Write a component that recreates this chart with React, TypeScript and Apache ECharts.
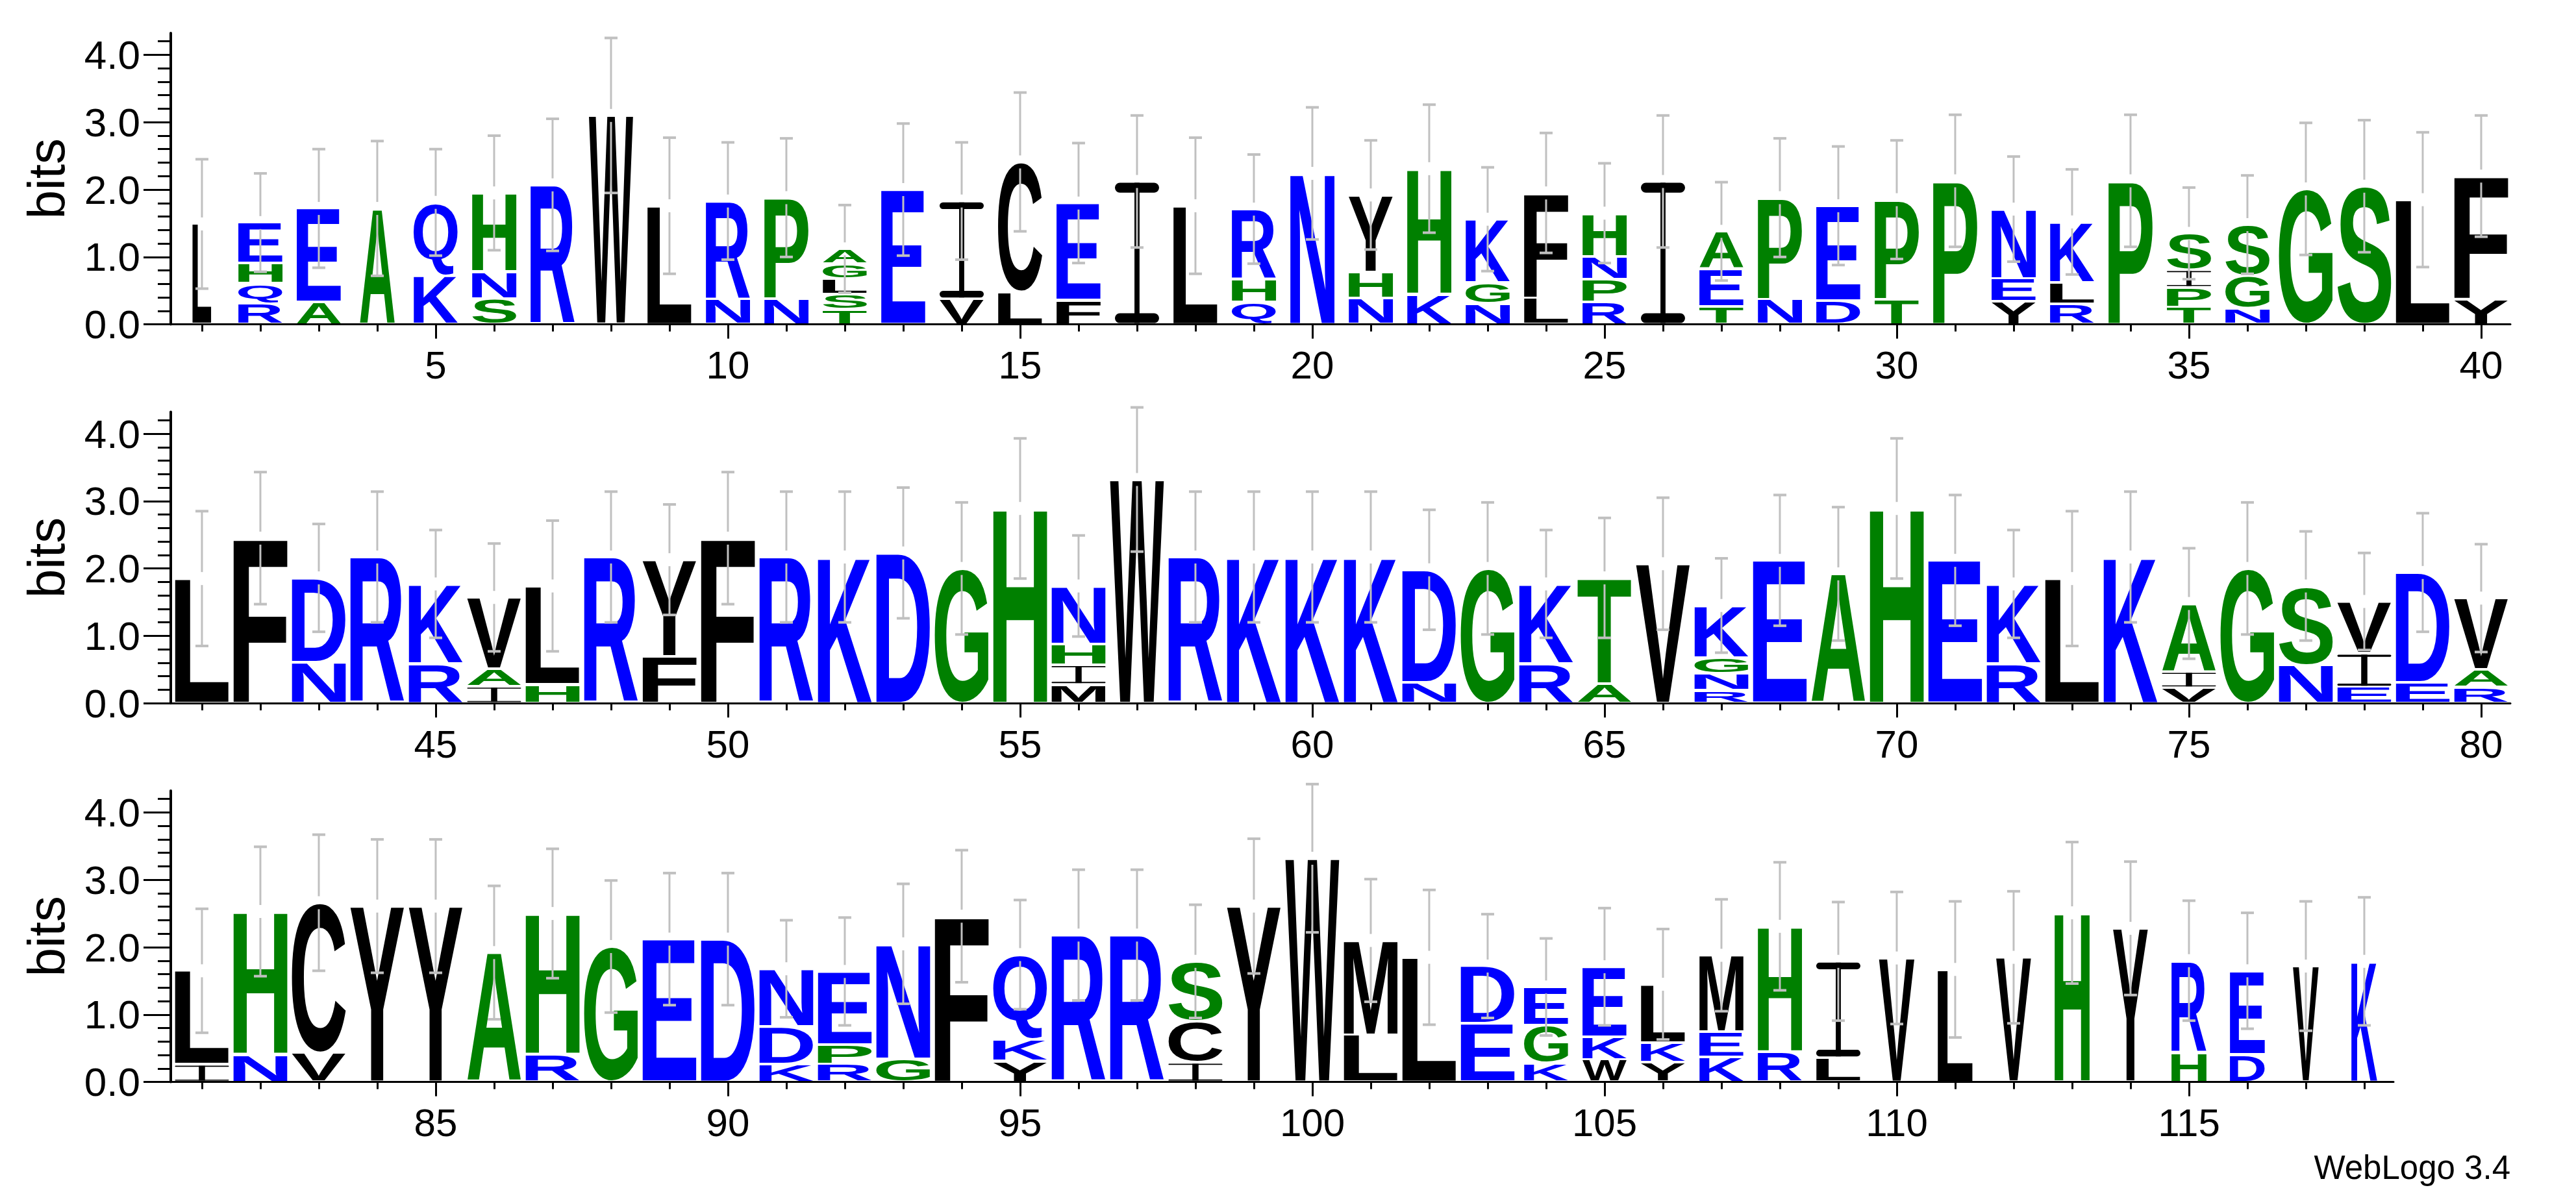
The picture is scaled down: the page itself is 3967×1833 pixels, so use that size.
import React, { useEffect, useRef } from 'react';
import * as echarts from 'echarts';

// ---------- DATA (positions 1..118, letters listed bottom -> top) ----------
const LETTERS: string[] = [
  'L', 'RQHE', 'AE', 'A', 'KQ', 'SNH', 'R', 'W', 'L', 'NR',
  'NP', 'TSLGA', 'E', 'VI', 'LC', 'FE', 'I', 'L', 'QHR', 'N',
  'NHY', 'KH', 'NGK', 'LF', 'RPNH', 'I', 'TEA', 'NP', 'DE', 'TP',
  'P', 'YEN', 'RLK', 'P', 'TPIS', 'NGS', 'G', 'S', 'L', 'YF',
  'L', 'F', 'ND', 'R', 'RK', 'IAV', 'HL', 'R', 'FY', 'F',
  'R', 'K', 'D', 'G', 'H', 'MIHN', 'W', 'R', 'K', 'K',
  'K', 'ND', 'G', 'RK', 'AT', 'V', 'RNGK', 'E', 'A', 'H',
  'E', 'RK', 'L', 'K', 'VIA', 'G', 'NS', 'EIV', 'ED', 'RAV',
  'IL', 'NH', 'VC', 'Y', 'Y', 'A', 'RH', 'G', 'E', 'D',
  'KDN', 'RPE', 'GN', 'F', 'YKQ', 'R', 'R', 'ICS', 'Y', 'W',
  'LM', 'L', 'ED', 'KGE', 'WKE', 'YKL', 'KEM', 'RH', 'LI', 'V',
  'L', 'V', 'H', 'Y', 'HR', 'DE', 'V', 'K',
];

const HEIGHTS: number[][] = [
  [1.49], [0.31, 0.30, 0.30, 0.60], [0.33, 1.39], [1.72], [0.72, 1.09], [0.38, 0.40, 1.17], [2.07], [3.10], [1.76], [0.37, 1.46],
  [0.38, 1.50], [0.22, 0.23, 0.23, 0.22, 0.22], [2.00], [0.38, 1.45], [0.48, 1.93], [0.36, 1.44], [2.12], [1.76], [0.33, 0.34, 1.04], [2.24],
  [0.39, 0.39, 1.14], [0.45, 1.86], [0.31, 0.31, 0.94], [0.39, 1.56], [0.33, 0.34, 0.34, 0.64], [2.12], [0.26, 0.56, 0.56], [0.37, 1.51], [0.35, 1.41], [0.37, 1.48],
  [2.13], [0.34, 0.34, 1.03], [0.30, 0.32, 0.90], [2.13], [0.26, 0.29, 0.26, 0.54], [0.24, 0.48, 0.76], [2.01], [2.05], [1.85], [0.37, 1.83],
  [1.85], [2.45], [0.61, 1.25], [2.17], [0.59, 1.18], [0.25, 0.26, 1.06], [0.28, 1.46], [2.17], [0.70, 1.43], [2.45],
  [2.17], [2.17], [2.23], [2.00], [2.89], [0.28, 0.29, 0.31, 0.86], [3.32], [2.17], [2.17], [2.17],
  [2.17], [0.31, 1.67], [2.00], [0.59, 1.18], [0.29, 1.57], [2.07], [0.19, 0.25, 0.24, 0.77], [2.12], [1.92], [2.89],
  [2.12], [0.59, 1.18], [1.85], [2.17], [0.23, 0.24, 1.01], [2.00], [0.57, 1.17], [0.24, 0.50, 0.77], [0.31, 1.63], [0.24, 0.26, 1.06],
  [0.26, 1.39], [0.41, 2.12], [0.43, 2.23], [2.61], [2.61], [1.92], [0.41, 2.09], [2.01], [2.12], [2.12],
  [0.27, 0.55, 0.86], [0.27, 0.28, 1.09], [0.34, 1.71], [2.46], [0.31, 0.32, 1.26], [2.18], [2.18], [0.29, 0.61, 0.89], [2.61], [3.32],
  [0.70, 1.40], [1.85], [0.87, 0.85], [0.28, 0.56, 0.57], [0.33, 0.34, 1.04], [0.29, 0.29, 0.87], [0.37, 0.37, 1.14], [0.45, 1.86], [0.36, 1.43], [1.84],
  [1.67], [1.85], [2.51], [2.28], [0.44, 1.36], [0.41, 1.24], [1.72], [1.79],
];

// half-length of each error bar (bits)
const ERRORS: number[] = [
  0.96, 0.73, 0.88, 1.00, 0.79, 0.85, 0.98, 1.15, 1.01, 0.87,
  0.88, 0.65, 0.98, 0.87, 1.03, 0.89, 0.98, 1.01, 0.81, 0.98,
  0.81, 0.95, 0.77, 0.89, 0.74, 0.98, 0.73, 0.88, 0.88, 0.88,
  0.98, 0.78, 0.78, 0.98, 0.68, 0.73, 0.98, 0.98, 1.00, 0.90,
  1.00, 0.98, 0.80, 0.97, 0.80, 0.80, 0.97, 0.97, 0.82, 0.98,
  0.97, 0.97, 0.97, 0.98, 1.04, 0.75, 1.07, 0.97, 0.97, 0.97,
  0.97, 0.89, 0.98, 0.80, 0.89, 0.98, 0.70, 0.97, 0.99, 1.04,
  0.97, 0.80, 1.00, 0.97, 0.82, 0.98, 0.81, 0.72, 0.88, 0.80,
  0.92, 0.96, 1.01, 0.99, 0.99, 0.99, 0.96, 0.98, 0.98, 0.98,
  0.72, 0.80, 0.89, 0.98, 0.81, 0.97, 0.97, 0.84, 1.00, 1.10,
  0.91, 1.00, 0.77, 0.72, 0.87, 0.82, 0.83, 0.95, 0.88, 0.98,
  1.01, 0.98, 1.05, 0.99, 0.89, 0.86, 0.96, 0.95,
];

// fraction of the full stack width (column occupancy)
const WIDTHS: number[] = [
  0.35, 0.82, 0.82, 0.65, 0.82, 0.82, 0.82, 0.82, 0.82, 0.82,
  0.82, 0.82, 0.82, 0.82, 0.82, 0.82, 0.82, 0.82, 0.82, 0.82,
  0.82, 0.82, 0.82, 0.82, 0.82, 0.82, 0.82, 0.82, 0.82, 0.82,
  0.82, 0.82, 0.82, 0.82, 0.82, 0.82, 1.00, 1.00, 1.00, 1.00,
  1.00, 1.00, 1.00, 1.00, 1.00, 1.00, 1.00, 1.00, 1.00, 1.00,
  1.00, 1.00, 1.00, 1.00, 1.00, 1.00, 1.00, 1.00, 1.00, 1.00,
  1.00, 1.00, 1.00, 1.00, 1.00, 1.00, 1.00, 1.00, 1.00, 1.00,
  1.00, 1.00, 1.00, 1.00, 1.00, 1.00, 1.00, 1.00, 1.00, 1.00,
  1.00, 1.00, 1.00, 1.00, 1.00, 1.00, 1.00, 1.00, 1.00, 1.00,
  1.00, 1.00, 1.00, 1.00, 1.00, 1.00, 1.00, 1.00, 1.00, 1.00,
  1.00, 1.00, 1.00, 0.82, 0.82, 0.82, 0.82, 0.82, 0.82, 0.66,
  0.65, 0.65, 0.65, 0.65, 0.65, 0.65, 0.48, 0.48,
];

const ROW_FIRST = [1, 41, 81];
const ROW_LAST = [40, 80, 118];
const Y_MAJOR = [0, 1, 2, 3, 4];
const Y_MINOR = [0.2, 0.4, 0.6, 0.8, 1.2, 1.4, 1.6, 1.8, 2.2, 2.4, 2.6, 2.8, 3.2, 3.4, 3.6, 3.8, 4.2];
const Y_MAX = 4.3219;

// ---------- LAYOUT / STYLE ----------
const PITCH = 90;
const PX_PER_BIT = 103.8;
const ZERO_Y = [499.6, 1083.2, 1666.6];
const AXIS_LEFT = 263;
const FULL_W = 0.922; // full stack width in position units
const FAMILY = '"Liberation Sans", Arial, Helvetica, sans-serif';
const GLYPH_FONT = 'bold 200px "Liberation Sans", Arial, sans-serif';
const BLUE = '#0000ff';
const GREEN = '#008000';
const BLACK = '#000000';
const ERR_COLOR = '#c0c0c0';

const colorOf = (ch: string) =>
  'RKDENQ'.includes(ch) ? BLUE : 'SGHTAP'.includes(ch) ? GREEN : BLACK;

type Metric = { l: number; r: number; a: number; d: number };

function measureGlyphs() {
  const canvas = document.createElement('canvas');
  const ctx = canvas.getContext('2d') as CanvasRenderingContext2D;
  ctx.font = GLYPH_FONT;
  ctx.textBaseline = 'alphabetic';
  const m: Record<string, Metric> = {};
  for (const ch of 'ACDEFGHIKLMNPQRSTVWY') {
    const t = ctx.measureText(ch);
    m[ch] = {
      l: t.actualBoundingBoxLeft,
      r: t.actualBoundingBoxRight,
      a: t.actualBoundingBoxAscent,
      d: t.actualBoundingBoxDescent,
    };
  }
  let central = 0;
  try {
    const ns = 'http://www.w3.org/2000/svg';
    const svg = document.createElementNS(ns, 'svg');
    svg.setAttribute('width', '1000');
    svg.setAttribute('height', '1000');
    (svg as any).style.position = 'absolute';
    (svg as any).style.left = '-5000px';
    const t1 = document.createElementNS(ns, 'text');
    t1.setAttribute('x', '0');
    t1.setAttribute('y', '500');
    t1.setAttribute('style', 'font: ' + GLYPH_FONT);
    t1.textContent = 'E';
    const t2 = t1.cloneNode(true) as SVGTextElement;
    t2.setAttribute('dominant-baseline', 'central');
    svg.appendChild(t1);
    svg.appendChild(t2);
    document.body.appendChild(svg);
    central = (t2 as any).getBBox().y - (t1 as any).getBBox().y;
    document.body.removeChild(svg);
  } catch (e) {
    central = 0;
  }
  if (!central) {
    const t = ctx.measureText('E') as any;
    central = ((t.fontBoundingBoxAscent || 181) - (t.fontBoundingBoxDescent || 42)) / 2;
  }
  return { m, central };
}

function buildOption(metrics: { m: Record<string, Metric>; central: number }) {
  const plotH = Y_MAX * PX_PER_BIT;
  const grids: any[] = [];
  const xAxes: any[] = [];
  const yAxes: any[] = [];
  const series: any[] = [];
  const graphics: any[] = [];

  for (let k = 0; k < 3; k++) {
    const first = ROW_FIRST[k];
    const last = ROW_LAST[k];
    const xmin = first - 0.533;
    const xmax = last + 0.5;
    grids.push({
      left: AXIS_LEFT,
      top: ZERO_Y[k] - plotH,
      width: (xmax - xmin) * PITCH,
      height: plotH,
      containLabel: false,
      outerBoundsMode: 'none',
    });
    const positions: number[] = [];
    const majors: number[] = [];
    for (let p = first; p <= last; p++) {
      positions.push(p);
      if (p % 5 === 0) majors.push(p);
    }
    xAxes.push({
      type: 'value', gridIndex: k, position: 'bottom', min: xmin, max: xmax,
      axisLine: { show: true, onZero: false, lineStyle: { color: BLACK, width: 3 } },
      axisTick: { show: true, customValues: majors, length: 22, lineStyle: { color: BLACK, width: 3 } },
      axisLabel: { show: true, customValues: majors, fontSize: 60, fontFamily: FAMILY, color: BLACK, margin: 33 },
      splitLine: { show: false },
    });
    xAxes.push({
      type: 'value', gridIndex: k, position: 'bottom', min: xmin, max: xmax,
      axisLine: { show: false, onZero: false },
      axisTick: { show: true, customValues: positions, length: 11, lineStyle: { color: BLACK, width: 3 } },
      axisLabel: { show: false },
      splitLine: { show: false },
    });
    yAxes.push({
      type: 'value', gridIndex: k, position: 'left', min: 0, max: Y_MAX,
      axisLine: { show: true, onZero: false, lineStyle: { color: BLACK, width: 4 } },
      axisTick: { show: true, customValues: Y_MAJOR, length: 42, lineStyle: { color: BLACK, width: 3 } },
      axisLabel: {
        show: true, customValues: Y_MAJOR, fontSize: 62, fontFamily: FAMILY, color: BLACK, margin: 47,
        formatter: (v: number) => Number(v).toFixed(1),
      },
      splitLine: { show: false },
    });
    yAxes.push({
      type: 'value', gridIndex: k, position: 'left', min: 0, max: Y_MAX,
      axisLine: { show: false, onZero: false },
      axisTick: { show: true, customValues: Y_MINOR, length: 20, lineStyle: { color: BLACK, width: 3 } },
      axisLabel: { show: false },
      splitLine: { show: false },
    });

    series.push({
      type: 'custom',
      coordinateSystem: 'cartesian2d',
      xAxisIndex: 2 * k,
      yAxisIndex: 2 * k,
      clip: false,
      silent: true,
      data: positions.map((p) => [p, 0]),
      renderItem: (params: any, api: any) => {
        const pos = api.value(0) as number;
        const i = pos - 1;
        const letters = LETTERS[i];
        const hs = HEIGHTS[i];
        const halfW = api.size([WIDTHS[i] * FULL_W, 0])[0] / 2;
        const cx = api.coord([pos, 0])[0];
        const left = cx - halfW;
        const right = cx + halfW;
        const children: any[] = [];
        let cum = 0;
        for (let j = 0; j < letters.length; j++) {
          const ch = letters[j];
          const h = hs[j];
          const yb = api.coord([pos, cum])[1];
          const yt = api.coord([pos, cum + h])[1];
          cum += h;
          const pad = Math.min(2, (yb - yt) * 0.12);
          const top = yt + pad;
          const bot = yb - pad;
          const hh = bot - top;
          if (hh < 0.5) continue;
          const col = colorOf(ch);
          if (ch === 'I') {
            const w = right - left;
            const t = Math.max(1.2, hh * 0.07);
            const sw = w * 0.115;
            children.push({ type: 'rect', shape: { x: left, y: top, width: w, height: t, r: t / 2 }, style: { fill: col } });
            children.push({ type: 'rect', shape: { x: left, y: bot - t, width: w, height: t, r: t / 2 }, style: { fill: col } });
            children.push({ type: 'rect', shape: { x: cx - sw / 2, y: top, width: sw, height: hh }, style: { fill: col } });
          } else {
            const g = metrics.m[ch];
            const inkW = g.l + g.r;
            const inkH = g.a + g.d;
            const sx = (right - left) / inkW;
            const sy = hh / inkH;
            children.push({
              type: 'text',
              x: left + sx * g.l,
              y: top - sy * (metrics.central - g.a),
              scaleX: sx,
              scaleY: sy,
              style: {
                text: ch, x: 0, y: 0, font: GLYPH_FONT, fill: col,
                align: 'left', verticalAlign: 'middle', textAlign: 'left', textVerticalAlign: 'middle',
              },
            });
          }
        }
        // error bar centred on the stack top
        const e = ERRORS[i];
        const yc = api.coord([pos, cum])[1];
        const yUp = api.coord([pos, cum + e])[1];
        const yDn = api.coord([pos, cum - e])[1];
        const gap = 10;
        const capHalf = 10;
        const es = { stroke: ERR_COLOR, lineWidth: 3 };
        const cs = { stroke: ERR_COLOR, lineWidth: 4 };
        children.push({ type: 'line', shape: { x1: cx, y1: yUp, x2: cx, y2: yc - gap }, style: es });
        children.push({ type: 'line', shape: { x1: cx, y1: yc + gap, x2: cx, y2: yDn }, style: es });
        children.push({ type: 'line', shape: { x1: cx - capHalf, y1: yUp, x2: cx + capHalf, y2: yUp }, style: cs });
        children.push({ type: 'line', shape: { x1: cx - capHalf, y1: yDn, x2: cx + capHalf, y2: yDn }, style: cs });
        return { type: 'group', children };
      },
    });

    graphics.push({
      type: 'text',
      x: 71,
      y: ZERO_Y[k] - plotH / 2,
      rotation: Math.PI / 2,
      style: { text: 'bits', font: '80px ' + FAMILY, fill: BLACK, align: 'center', verticalAlign: 'middle' },
    });
  }

  graphics.push({
    type: 'text',
    x: 3866,
    y: 1798,
    style: { text: 'WebLogo 3.4', font: '51px ' + FAMILY, fill: BLACK, align: 'right', verticalAlign: 'middle' },
  });

  return {
    animation: false,
    backgroundColor: '#ffffff',
    grid: grids,
    xAxis: xAxes,
    yAxis: yAxes,
    series,
    graphic: graphics,
  };
}

export default function App() {
  const ref = useRef<HTMLDivElement>(null);
  useEffect(() => {
    document.body.style.margin = '0';
    const el = ref.current as HTMLDivElement;
    const metrics = measureGlyphs();
    const chart = echarts.init(el, null, { renderer: 'svg' });
    chart.setOption(buildOption(metrics) as any);
    return () => {
      chart.dispose();
    };
  }, []);
  return <div ref={ref} style={{ width: 3967, height: 1833 }} />;
}
